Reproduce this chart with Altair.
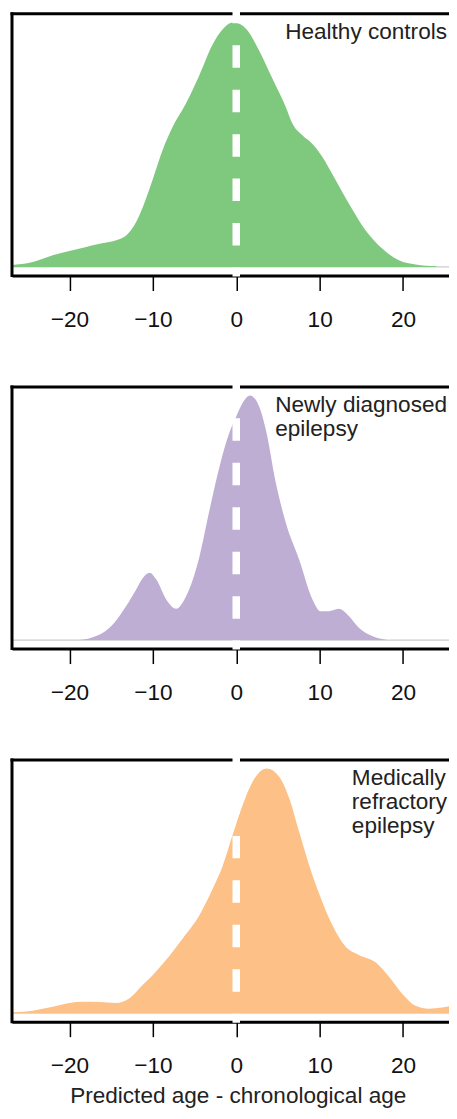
import altair as alt
import pandas as pd

# ---- data (relative density, peak = 1) ----
hc_x = [-28, -27, -24.4, -22, -20, -18, -16.4, -14.4, -13.2, -12, -11.2, -10.05, -8.85, -7.65,
        -6.05, -4.45, -2.8, -1.6, -0.3, 1.2, 2.75, 4.35, 5.95, 6.75, 7.95, 9.14, 10.35, 11.5,
        13.5, 15.5, 17.5, 19.5, 21.5, 24]
hc_d = [0.004, 0.007, 0.02, 0.048, 0.065, 0.082, 0.095, 0.109, 0.129, 0.184, 0.245, 0.354, 0.476,
        0.571, 0.667, 0.782, 0.912, 0.973, 1.0, 0.973, 0.884, 0.769, 0.653, 0.585, 0.537, 0.503,
        0.449, 0.381, 0.259, 0.15, 0.075, 0.027, 0.01, 0.003]

nd_x = [-18.8, -16.8, -14.8, -13.2, -12, -11.2, -10.4, -9.6, -8.4, -7.2, -6.0, -4.4, -3.2, -2.0,
        -0.84, 0, 0.76, 1.64, 2.75, 3.55, 4.75, 5.95, 7.54, 9.14, 10.1, 11.1, 12.3, 13.5, 14.7,
        16.3, 18.1]
nd_d = [0.0, 0.016, 0.064, 0.139, 0.207, 0.254, 0.275, 0.248, 0.166, 0.128, 0.18, 0.343, 0.533,
        0.71, 0.846, 0.914, 0.969, 1.0, 0.955, 0.86, 0.642, 0.479, 0.329, 0.166, 0.118, 0.118,
        0.128, 0.098, 0.05, 0.016, 0.0]

mr_x = [-27.5, -26.6, -24.4, -22, -20, -18.4, -16.4, -14.4, -12.8, -11.2, -10, -8.4, -6.4, -4.4,
        -2.8, -1.6, -0.44, 0.76, 1.96, 3.67, 5.15, 6.35, 7.54, 8.74, 10, 11.5, 13.1, 14.7, 16.7,
        18.3, 20, 21.5, 23.1, 24.7, 26.3, 27.5]
mr_d = [0.002, 0.003, 0.01, 0.026, 0.041, 0.046, 0.045, 0.041, 0.061, 0.116, 0.156, 0.218, 0.306,
        0.401, 0.51, 0.605, 0.728, 0.85, 0.946, 1.0, 0.966, 0.878, 0.741, 0.605, 0.483, 0.361,
        0.272, 0.238, 0.208, 0.15, 0.075, 0.03, 0.018, 0.023, 0.034, 0.042]

labels = [["Healthy controls"], ["Newly diagnosed", "epilepsy"], ["Medically", "refractory", "epilepsy"]]
label_x = [5.87, 4.67, 13.86]
colors = ["#7FC97F", "#BEAED4", "#FDC086"]
tick_values = [-20, -10, 0, 10, 20]
x_title = "Predicted age - chronological age"

W = 444
H = 262
FONT = "Liberation Sans"
FS = 22.6
XDOM = [-26.89, 26.29]
YDOM = [-0.035, 1.035]
LINE_H = 24.3


def panel(xs, ds, color, lines, lx, with_title):
    n = len(xs)
    df = pd.DataFrame({"x": xs, "d": ds, "zero": [0.0] * n})
    one = pd.DataFrame({"x": [0.0], "d": [0.0], "lx": [lx]})
    xscale = alt.Scale(domain=XDOM, nice=False, zero=False)
    yscale = alt.Scale(domain=YDOM, nice=False, zero=False)
    axis_kw = dict(
        values=tick_values, grid=False, domain=True, domainColor="black", domainWidth=3,
        ticks=True, tickColor="black", tickWidth=1.5, tickSize=15,
        labelFontSize=FS, labelFont=FONT, labelColor="#111111", labelPadding=18,
    )
    if with_title:
        axis = alt.Axis(title=x_title, titleFont=FONT, titleFontSize=FS, titleFontWeight="normal",
                        titleColor="#222222", titleX=226, titleY=81, titleBaseline="alphabetic",
                        titleAlign="center", **axis_kw)
    else:
        axis = alt.Axis(title=None, **axis_kw)

    X = lambda f: alt.X(f, type="quantitative", scale=xscale, axis=axis)
    Y = lambda f: alt.Y(f, type="quantitative", scale=yscale, axis=None)

    base_line = alt.Chart(one).mark_rule(color="#cccccc", strokeWidth=1.2).encode(
        y=Y("d"), x=alt.value(0), x2=alt.value(W))
    area = alt.Chart(df).mark_area(color=color, opacity=1, interpolate="monotone", clip=True).encode(
        x=X("x"), y=Y("d"), y2="zero:Q")
    left_border = alt.Chart(one).mark_rule(color="black", strokeWidth=3).encode(
        x=alt.value(0), y=alt.value(-1.5), y2=alt.value(H + 1.5))
    top_border = alt.Chart(one).mark_rule(color="black", strokeWidth=3).encode(
        y=alt.value(0), x=alt.value(-1.5), x2=alt.value(W))
    dash = alt.Chart(one).mark_rule(color="white", strokeWidth=7.5, strokeDash=[22.5, 22],
                                    strokeDashOffset=11).encode(
        x=X("x"), y=alt.value(-2), y2=alt.value(H + 1))
    layers = [base_line, area, left_border, top_border, dash]
    for i, line in enumerate(lines):
        t = alt.Chart(one).mark_text(align="left", baseline="alphabetic", fontSize=FS, font=FONT,
                                     color="#222222", text=line).encode(
            x=X("lx"), y=alt.value(25 + i * LINE_H))
        layers.append(t)
    return alt.layer(*layers).properties(width=W, height=H)


p1 = panel(hc_x, hc_d, colors[0], labels[0], label_x[0], False)
p2 = panel(nd_x, nd_d, colors[1], labels[1], label_x[1], False)
p3 = panel(mr_x, mr_d, colors[2], labels[2], label_x[2], True)

chart = alt.vconcat(p1, p2, p3, spacing=49.5).properties(
    padding={"left": 1, "top": -0.8, "right": -8.5, "bottom": 0},
    background="white",
).configure_view(strokeWidth=0)

chart.save("out.html", embed_options={"renderer": "svg", "actions": False})
